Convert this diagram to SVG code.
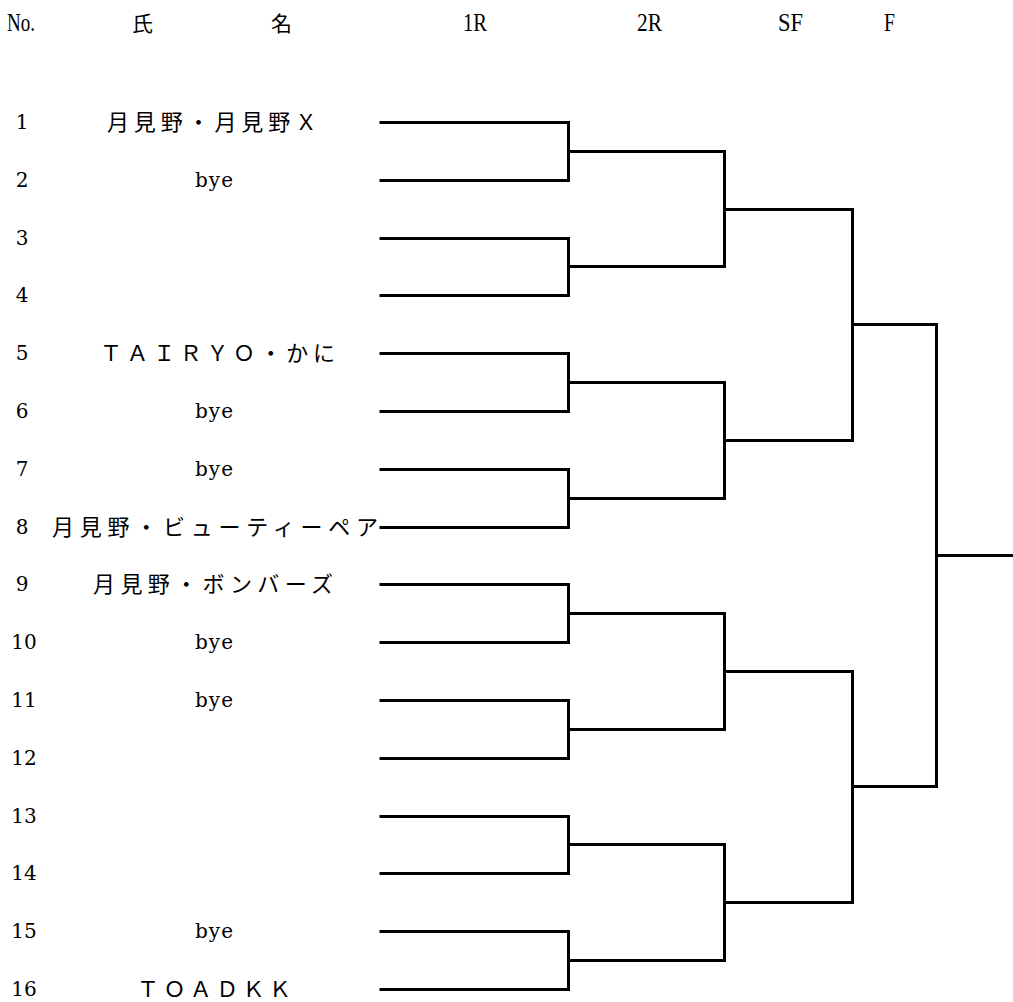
<svg xmlns="http://www.w3.org/2000/svg" width="1013" height="1002" viewBox="0 0 1013 1002">
<style>
.bg{fill:#fff}
.hd{font-family:"Liberation Serif","DejaVu Serif",serif;font-size:26px;fill:#000}
.hk{font-family:"Noto Sans CJK JP",sans-serif;font-size:21px;fill:#000}
.no{font-family:"DejaVu Serif","Liberation Serif",serif;font-size:20px;fill:#000;text-anchor:middle}
.bye{font-family:"DejaVu Serif","Liberation Serif",serif;font-size:20px;fill:#000}
.nm{font-family:"Noto Sans CJK JP","Liberation Serif",sans-serif;font-size:22px;fill:#000}
.ln{fill:none;stroke:#000;stroke-width:3;stroke-linecap:square;stroke-linejoin:miter}
</style>
<rect class="bg" x="0" y="0" width="1013" height="1002"/>
<g id="header">
<text class="hd" x="7" y="31" textLength="28" lengthAdjust="spacingAndGlyphs">No.</text>
<text class="hk" x="132" y="31">氏</text>
<text class="hk" x="271" y="31">名</text>
<text class="hd" x="463" y="31" textLength="24" lengthAdjust="spacingAndGlyphs">1R</text>
<text class="hd" x="637" y="31" textLength="25" lengthAdjust="spacingAndGlyphs">2R</text>
<text class="hd" x="778" y="31" textLength="25" lengthAdjust="spacingAndGlyphs">SF</text>
<text class="hd" x="884" y="31" textLength="11" lengthAdjust="spacingAndGlyphs">F</text>
</g>
<g id="entry1"><text class="no" x="22" y="129">1</text><text class="nm" x="107" y="130" textLength="210" lengthAdjust="spacing">月見野・月見野Ｘ</text></g>
<g id="entry2"><text class="no" x="22" y="187">2</text><text class="bye" x="195" y="187" textLength="38">bye</text></g>
<g id="entry3"><text class="no" x="22" y="245">3</text></g>
<g id="entry4"><text class="no" x="22" y="302">4</text></g>
<g id="entry5"><text class="no" x="22" y="360">5</text><text class="nm" x="100" y="361" textLength="235" lengthAdjust="spacing">ＴＡＩＲＹＯ・かに</text></g>
<g id="entry6"><text class="no" x="22" y="418">6</text><text class="bye" x="195" y="418" textLength="38">bye</text></g>
<g id="entry7"><text class="no" x="22" y="476">7</text><text class="bye" x="195" y="476" textLength="38">bye</text></g>
<g id="entry8"><text class="no" x="22" y="534">8</text><text class="nm" x="52" y="535" textLength="326" lengthAdjust="spacing">月見野・ビューティーペア</text></g>
<g id="entry9"><text class="no" x="22" y="591">9</text><text class="nm" x="93" y="592" textLength="240" lengthAdjust="spacing">月見野・ボンバーズ</text></g>
<g id="entry10"><text class="no" x="24" y="649">10</text><text class="bye" x="195" y="649" textLength="38">bye</text></g>
<g id="entry11"><text class="no" x="24" y="707">11</text><text class="bye" x="195" y="707" textLength="38">bye</text></g>
<g id="entry12"><text class="no" x="24" y="765">12</text></g>
<g id="entry13"><text class="no" x="24" y="823">13</text></g>
<g id="entry14"><text class="no" x="24" y="880">14</text></g>
<g id="entry15"><text class="no" x="24" y="938">15</text><text class="bye" x="195" y="938" textLength="38">bye</text></g>
<g id="entry16"><text class="no" x="24" y="996">16</text><text class="nm" x="137" y="997" textLength="154" lengthAdjust="spacing">ＴＯＡＤＫＫ</text></g>
<g id="connectors">
<path class="ln" d="M381 122.5H568.5V180.5H381M568.5 151.5H724.5"/>
<path class="ln" d="M381 238.5H568.5V295.5H381M568.5 266.5H724.5"/>
<path class="ln" d="M381 353.5H568.5V411.5H381M568.5 382.5H724.5"/>
<path class="ln" d="M381 469.5H568.5V527.5H381M568.5 498.5H724.5"/>
<path class="ln" d="M381 584.5H568.5V642.5H381M568.5 613.5H724.5"/>
<path class="ln" d="M381 700.5H568.5V758.5H381M568.5 729.5H724.5"/>
<path class="ln" d="M381 816.5H568.5V873.5H381M568.5 844.5H724.5"/>
<path class="ln" d="M381 931.5H568.5V989.5H381M568.5 960.5H724.5"/>
<path class="ln" d="M724.5 151.5V266.5M724.5 209.5H852.5"/>
<path class="ln" d="M724.5 382.5V498.5M724.5 440.5H852.5"/>
<path class="ln" d="M724.5 613.5V729.5M724.5 671.5H852.5"/>
<path class="ln" d="M724.5 844.5V960.5M724.5 902.5H852.5"/>
<path class="ln" d="M852.5 209.5V440.5M852.5 324.5H936.5"/>
<path class="ln" d="M852.5 671.5V902.5M852.5 786.5H936.5"/>
<path class="ln" d="M936.5 324.5V786.5M936.5 555.5H1013"/>
</g>
</svg>
